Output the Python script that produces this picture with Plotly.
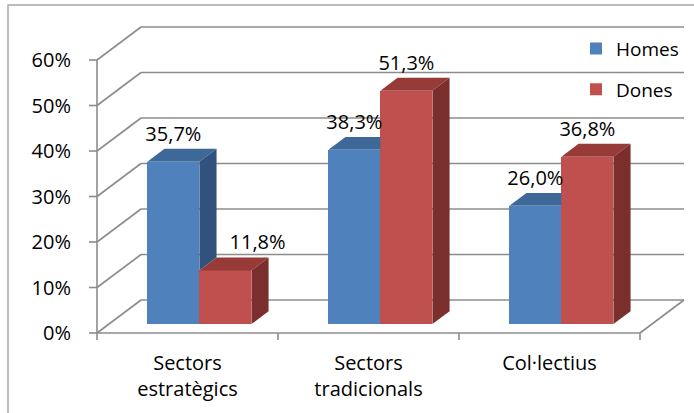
import plotly.graph_objects as go

# ---------------- data ----------------
categories = ["Sectors<br>estratègics", "Sectors<br>tradicionals", "Col·lectius"]
homes = [35.7, 38.3, 26.0]
dones = [11.8, 51.3, 36.8]
y_ticks = [0, 10, 20, 30, 40, 50, 60]
y_tick_labels = ["0%", "10%", "20%", "30%", "40%", "50%", "60%"]
series_names = ["Homes", "Dones"]

# ---------------- styling / geometry ----------------
W_PX, H_PX = 694, 413
PX_X = 181.0          # pixels per category
PX_Y = 4.55           # pixels per percent
DX = 44 / PX_X        # depth offset (x units)
DY = 33 / PX_Y        # depth offset (y units)
F1, F2 = 0.27, 0.66   # depth span of bars
W = 0.2875            # bar width (category units)
ML, MR, MT, MB = 86, 3, 20, 72
x_min = -(97 - ML) / PX_X
x_max = x_min + (W_PX - ML - MR) / PX_X
y_min = -(H_PX - MB - 333) / PX_Y
y_max = y_min + (H_PX - MT - MB) / PX_Y
PLOT_W = W_PX - ML - MR
PLOT_H = H_PX - MT - MB

GRID = "#8c8c8c"
FONT = "Open Sans"
BLUE = ["#4f81bd", "#3e6897", "#30527c"]   # front, top, side
RED = ["#c0504d", "#973b39", "#7b2f2d"]

def fmt(v):
    return f"{v:.1f}%".replace(".", ",")

n = len(categories)
fig = go.Figure()

# ---------- walls, floor, axes (base subplot) ----------
gx, gy = [], []
for v in y_ticks:
    gx += [0, DX, None]; gy += [v, v + DY, None]
    gx += [DX, n + DX, None]; gy += [v + DY, v + DY, None]
gx += [0, n, None, n, n + DX, None]; gy += [0, 0, None, 0, DY, None]
gx += [0, 0, None]; gy += [0, y_ticks[-1], None]
for v in y_ticks:
    gx += [-8 / PX_X, 0, None]; gy += [v, v, None]
for k in range(n + 1):
    gx += [k, k, None]; gy += [0, -7 / PX_Y, None]
fig.add_trace(go.Scatter(x=gx, y=gy, mode="lines", line=dict(color=GRID, width=1.6),
                         hoverinfo="skip", showlegend=False))

# ---------- bars (overlay subplot) ----------
centers_b = [i + 0.5 - W / 2 for i in range(n)]
centers_r = [i + 0.5 + W / 2 for i in range(n)]
for name, vals, cents, col in [(series_names[0], homes, centers_b, BLUE),
                               (series_names[1], dones, centers_r, RED)]:
    fig.add_trace(go.Bar(x=[c + F1 * DX for c in cents], y=vals, base=F1 * DY, width=W,
                         name=name, marker=dict(color=col[0], line=dict(width=0)),
                         yaxis="y2", legendgroup=name, hoverinfo="skip"))

def poly_trace(polys, color):
    xs, ys = [], []
    for p in polys:
        for (x, y) in p:
            xs.append(x); ys.append(y)
        xs.append(p[0][0]); ys.append(p[0][1])
        xs.append(None); ys.append(None)
    return go.Scatter(x=xs, y=ys, mode="lines", fill="toself", fillcolor=color,
                      line=dict(width=0, color=color), hoverinfo="skip",
                      showlegend=False, yaxis="y2")

blue_tops, blue_sides, red_tops, red_sides = [], [], [], []
for i in range(n):
    vb, vr = homes[i], dones[i]
    xb0, xb1, xr1 = i + 0.5 - W, i + 0.5, i + 0.5 + W
    if vr > vb:
        blue_tops.append([(xb0 + F1 * DX, vb + F1 * DY), (xb1 + F1 * DX, vb + F1 * DY),
                          (xb1 + F1 * DX, vb + F2 * DY), (xb0 + F2 * DX, vb + F2 * DY)])
    else:
        blue_tops.append([(xb0 + F1 * DX, vb + F1 * DY), (xb1 + F1 * DX, vb + F1 * DY),
                          (xb1 + F2 * DX, vb + F2 * DY), (xb0 + F2 * DX, vb + F2 * DY)])
        blue_sides.append([(xb1 + F1 * DX, vr + F1 * DY), (xb1 + F2 * DX, vr + F2 * DY),
                           (xb1 + F2 * DX, vb + F2 * DY), (xb1 + F1 * DX, vb + F1 * DY)])
    red_tops.append([(xb1 + F1 * DX, vr + F1 * DY), (xr1 + F1 * DX, vr + F1 * DY),
                     (xr1 + F2 * DX, vr + F2 * DY), (xb1 + F2 * DX, vr + F2 * DY)])
    red_sides.append([(xr1 + F1 * DX, F1 * DY), (xr1 + F2 * DX, F2 * DY),
                      (xr1 + F2 * DX, vr + F2 * DY), (xr1 + F1 * DX, vr + F1 * DY)])

fig.add_trace(poly_trace(blue_tops, BLUE[1]))
fig.add_trace(poly_trace(blue_sides, BLUE[2]))
fig.add_trace(poly_trace(red_tops, RED[1]))
fig.add_trace(poly_trace(red_sides, RED[2]))

# ---------- data labels ----------
LBL_OFF = 26 / PX_Y
lx, ly, lt = [], [], []
for i in range(n):
    vb, vr = homes[i], dones[i]
    lx.append(centers_b[i] + F1 * DX); ly.append(vb + F1 * DY + LBL_OFF); lt.append(fmt(vb))
    xr = centers_r[i] + F1 * DX
    if vb > vr + 8:
        xr = max(xr, i + 0.5 + F2 * DX + (12 + 29) / PX_X)
    lx.append(xr); ly.append(vr + F1 * DY + LBL_OFF); lt.append(fmt(vr))
fig.add_trace(go.Scatter(x=lx, y=ly, text=lt, mode="text", textposition="middle center",
                         textfont=dict(family=FONT, size=20, color="#000000"),
                         hoverinfo="skip", showlegend=False, yaxis="y2", cliponaxis=False))

# ---------- layout ----------
fig.update_layout(
    width=W_PX, height=H_PX,
    margin=dict(l=ML, r=MR, t=MT, b=MB, pad=0, autoexpand=False),
    paper_bgcolor="white", plot_bgcolor="white",
    barmode="overlay", bargap=0,
    font=dict(family=FONT, size=20, color="#000000"),
    xaxis=dict(range=[x_min, x_max], tickvals=[i + 0.5 for i in range(n)], ticktext=categories,
               showgrid=False, zeroline=False, showline=False, ticks="", automargin=False,
               ticklabelstandoff=8, tickfont=dict(size=20)),
    yaxis=dict(range=[y_min, y_max], tickvals=y_ticks, ticktext=y_tick_labels,
               showgrid=False, zeroline=False, showline=False, ticks="", automargin=False,
               ticklabelstandoff=14, tickfont=dict(size=20)),
    yaxis2=dict(range=[y_min, y_max], overlaying="y", visible=False),
    legend=dict(x=(576 - ML) / PLOT_W, y=0.970, xanchor="left", yanchor="top",
                bgcolor="rgba(0,0,0,0)", font=dict(family=FONT, size=19),
                tracegroupgap=13, traceorder="grouped"),
    shapes=[dict(type="rect", xref="paper", yref="paper",
                 x0=(8 - ML) / PLOT_W, x1=1.3,
                 y0=-0.6, y1=(H_PX - MB - 5) / PLOT_H,
                 line=dict(color="#a6a6a6", width=1.5), fillcolor="rgba(0,0,0,0)", layer="below")],
)

fig.write_html("out.html", config={"displayModeBar": False},
               post_script="document.body.style.margin='0';document.body.style.overflow='hidden';")
